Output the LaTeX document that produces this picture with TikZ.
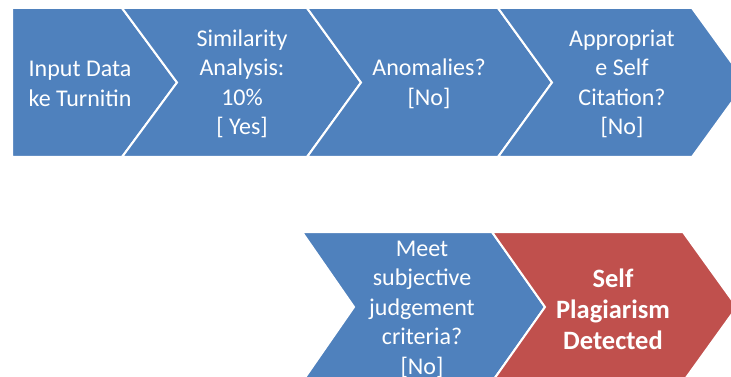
\documentclass[tikz,border=0pt]{standalone}
\usepackage{fontspec}
\setmainfont{Carlito}
\definecolor{stepblue}{HTML}{4F81BD}
\definecolor{stepred}{HTML}{C0504D}
\tikzset{
  chevblue/.style={fill=stepblue, draw=white, line width=2pt, line join=miter},
  chevred/.style={fill=stepred, draw=white, line width=2pt, line join=miter},
  steptext/.style={text=white, align=center, inner sep=0pt,
    font=\fontsize{24}{29.5}\selectfont},
  steptextbold/.style={steptext, font=\fontsize{26.5}{31}\selectfont\bfseries}
}
\begin{document}
\begin{tikzpicture}[x=1pt, y=-1pt]
  \useasboundingbox (0,0) rectangle (731,377);
  \fill[white] (0,0) rectangle (731,377);
  \clip (0,0) rectangle (731,377);

  % upper row of process steps
  \path[chevblue] (12,8) -- (122,8) -- (177,82.5) -- (122,157) -- (12,157) -- cycle;
  \path[chevblue] (122,8) -- (307,8) -- (361,82.5) -- (307,157) -- (122,157) -- (177,82.5) -- cycle;
  \path[chevblue] (307,8) -- (498,8) -- (552,82.5) -- (498,157) -- (307,157) -- (361,82.5) -- cycle;
  \path[chevblue] (498,8) -- (692,8) -- (746,82.5) -- (692,157) -- (498,157) -- (552,82.5) -- cycle;

  % lower row
  \path[chevblue] (302,232) -- (492,232) -- (545,307) -- (492,382) -- (302,382) -- (354,307) -- cycle;
  \path[chevred] (492,232) -- (683,232) -- (737,307) -- (683,382) -- (492,382) -- (545,307) -- cycle;

  % labels
  \node[steptext] (input) at (80,84) {Input Data\\ke Turnitin};
  \node[steptext] (simil) at (242,84) {Similarity\\Analysis:\\10\%\\{[} Yes{]}};
  \node[steptext] (anom) at (429,84) {Anomalies?\\{[}No{]}};
  \node[steptext] (cite) at (622,84) {Appropriat\\e Self\\Citation?\\{[}No{]}};
  \node[steptext] (judge) at (422,309) {Meet\\subjective\\judgement\\criteria?\\{[}No{]}};
  \node[steptextbold] (detect) at (613,309) {Self\\Plagiarism\\Detected};
\end{tikzpicture}
\end{document}
